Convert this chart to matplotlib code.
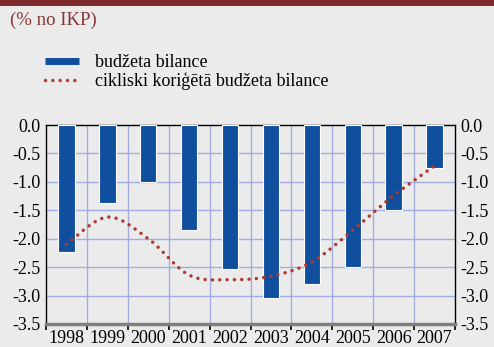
import numpy as np
import matplotlib
matplotlib.use("Agg")
import matplotlib.pyplot as plt
from matplotlib.lines import Line2D
from matplotlib.patches import Rectangle

years = ["1998", "1999", "2000", "2001", "2002", "2003", "2004", "2005", "2006", "2007"]
budget_balance = [-2.23, -1.37, -1.00, -1.85, -2.53, -3.05, -2.80, -2.50, -1.50, -0.75]
cyclically_adjusted = [-2.10, -1.62, -2.00, -2.64, -2.72, -2.66, -2.41, -1.85, -1.24, -0.72]
y_ticks = [0.0, -0.5, -1.0, -1.5, -2.0, -2.5, -3.0, -3.5]

BG = "#ebebeb"
BLUE = "#0f4f9e"
RED_DOT = "#b0382e"
GRID = "#a3abe3"
TITLE_RED = "#8b3535"

plt.rcParams["font.family"] = ["Liberation Serif", "DejaVu Serif"]


def smooth(xs, ys, n=40):
    """Catmull-Rom spline through the points (smoothed line)."""
    xs = np.asarray(xs, float)
    ys = np.asarray(ys, float)
    px = np.concatenate([[xs[0]], xs, [xs[-1]]])
    py = np.concatenate([[ys[0]], ys, [ys[-1]]])
    out_x, out_y = [], []
    for i in range(1, len(px) - 2):
        t = np.linspace(0, 1, n, endpoint=False)
        for arr, out in ((px, out_x), (py, out_y)):
            p0, p1, p2, p3 = arr[i - 1], arr[i], arr[i + 1], arr[i + 2]
            out.extend(0.5 * ((2 * p1) + (-p0 + p2) * t
                              + (2 * p0 - 5 * p1 + 4 * p2 - p3) * t ** 2
                              + (-p0 + 3 * p1 - 3 * p2 + p3) * t ** 3))
    out_x.append(xs[-1])
    out_y.append(ys[-1])
    return np.array(out_x), np.array(out_y)


fig = plt.figure(figsize=(4.94, 3.47), dpi=100, facecolor=BG)
ax = fig.add_axes([46 / 494, 1 - 324 / 347, (455 - 46) / 494, (324 - 125) / 347])
ax.set_facecolor(BG)

x = np.arange(len(years))
ax.bar(x, budget_balance, width=0.4, color=BLUE, edgecolor="white",
       linewidth=0.8, zorder=3)

sx, sy = smooth(x, cyclically_adjusted)
ax.plot(sx, sy, color=RED_DOT, linewidth=2.5, linestyle=(0, (0.01, 2.1)),
        dash_capstyle="round", zorder=4)

ax.set_xlim(-0.5, len(years) - 0.5)
ax.set_ylim(-3.5, 0.0)

# grid: horizontal every 0.5, vertical at category boundaries
for yv in y_ticks[1:-1]:
    ax.axhline(yv, color=GRID, linewidth=1.0, zorder=1)
for xb in np.arange(0.5, len(years) - 0.5, 1.0):
    ax.axvline(xb, color=GRID, linewidth=1.0, zorder=1)

ax.set_yticks(y_ticks)
ax.set_yticklabels([f"{v:.1f}" for v in y_ticks])
ax.tick_params(axis="y", length=0, labelsize=13, pad=4,
               labelleft=True, labelright=True)

ax.set_xticks(x)
ax.set_xticklabels(years)
ax.set_xticks(np.arange(-0.5, len(years), 1.0), minor=True)
ax.tick_params(axis="x", which="major", length=0, labelsize=13, pad=4)
ax.tick_params(axis="x", which="minor", length=4, width=1.2, color="black",
               direction="out")

for side in ("left", "right", "top"):
    ax.spines[side].set_color("black")
    ax.spines[side].set_linewidth(1.0)
ax.spines["bottom"].set_color("#7f7f7f")
ax.spines["bottom"].set_linewidth(2.5)

# header band and unit note
fig.add_artist(Rectangle((0, 1 - 6 / 347), 1, 6 / 347, transform=fig.transFigure,
                         facecolor="#7f2a2e", edgecolor="none"))
fig.text(10 / 494, 1 - 20 / 347, "(% no IKP)", color=TITLE_RED, fontsize=13.5,
         va="center", ha="left")

handles = [
    Line2D([], [], color=BLUE, linewidth=5, solid_capstyle="butt"),
    Line2D([], [], color=RED_DOT, linewidth=2.5, linestyle=(0, (0.01, 2.1)),
           dash_capstyle="round"),
]
labels = ["budžeta bilance", "cikliski koriģētā budžeta bilance"]
fig.legend(handles, labels, loc="upper left",
           bbox_to_anchor=(45 / 494, 1 - 54 / 347), frameon=False,
           fontsize=13, handlelength=1.9, handletextpad=0.85,
           borderpad=0, borderaxespad=0, labelspacing=0.05)

fig.savefig("out.png", dpi=100, facecolor=BG)
